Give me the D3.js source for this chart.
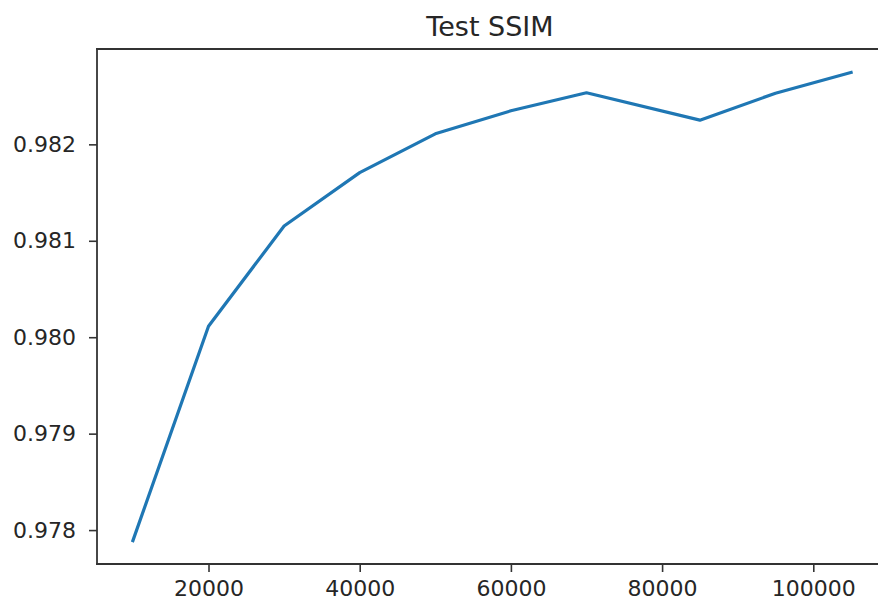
<!DOCTYPE html>
<html>
<head>
<meta charset="utf-8">
<script src="https://cdn.jsdelivr.net/npm/d3@7"></script>
<style>
  html, body { margin: 0; padding: 0; background: #fff; overflow: hidden; }
  svg { display: block; font-family: "DejaVu Sans", sans-serif; }
</style>
</head>
<body>
<svg width="878" height="606"></svg>
<script>
var steps = [10000, 20000, 30000, 40000, 50000, 60000, 70000, 85000, 95000, 105000];
var ssim = [0.977891, 0.980114, 0.981153, 0.981707, 0.982109, 0.982348, 0.982535, 0.982251, 0.982530, 0.982746];
var xTicks = [20000, 40000, 60000, 80000, 100000];
var yTicks = [0.978, 0.979, 0.980, 0.981, 0.982];

var svg = d3.select("svg");

// axes box (right edge falls outside the picture, like the original)
var boxL = 97, boxT = 49, boxR = 887, boxB = 564;

// matplotlib-style 5% margins
var xPad = (d3.max(steps) - d3.min(steps)) * 0.05,
    yPad = (d3.max(ssim) - d3.min(ssim)) * 0.05;

var x = d3.scaleLinear()
    .domain([d3.min(steps) - xPad, d3.max(steps) + xPad])
    .range([boxL, boxR]);

var y = d3.scaleLinear()
    .domain([d3.min(ssim) - yPad, d3.max(ssim) + yPad])
    .range([boxB, boxT]);

var xAxis = svg.append("g")
    .attr("transform", "translate(0," + boxB + ")")
    .call(d3.axisBottom(x).tickValues(xTicks).tickFormat(d3.format("d")).tickSize(8).tickPadding(8).tickSizeOuter(0));

var yAxis = svg.append("g")
    .attr("transform", "translate(" + boxL + ",0)")
    .call(d3.axisLeft(y).tickValues(yTicks).tickFormat(d3.format(".3f")).tickSize(8).tickPadding(13).tickSizeOuter(0));

[xAxis, yAxis].forEach(function (g) {
  g.select(".domain").remove();
  g.selectAll(".tick line").attr("stroke", "#333").attr("stroke-width", 1.6);
  g.selectAll(".tick text")
    .attr("fill", "#262626")
    .attr("font-size", 22)
    .attr("font-family", "DejaVu Sans, sans-serif");
});
xAxis.selectAll(".tick text").attr("dy", "0.71em");

// spines: left, top, bottom (the right one is past the picture's edge)
var spines = svg.append("g")
    .attr("stroke", "#333")
    .attr("stroke-width", 1.8)
    .attr("stroke-linecap", "square");
spines.append("line").attr("x1", boxL).attr("y1", boxT).attr("x2", boxL).attr("y2", boxB);
spines.append("line").attr("x1", boxL).attr("y1", boxT).attr("x2", 878).attr("y2", boxT);
spines.append("line").attr("x1", boxL).attr("y1", boxB).attr("x2", 878).attr("y2", boxB);

var line = d3.line()
    .x(function (d, i) { return x(steps[i]); })
    .y(function (d) { return y(d); });

svg.append("path")
    .datum(ssim)
    .attr("fill", "none")
    .attr("stroke", "#1f77b4")
    .attr("stroke-width", 3.2)
    .attr("stroke-linejoin", "round")
    .attr("stroke-linecap", "square")
    .attr("d", line);

svg.append("text")
    .attr("x", 490)
    .attr("y", 36)
    .attr("text-anchor", "middle")
    .attr("font-size", 27)
    .attr("fill", "#262626")
    .text("Test SSIM");
</script>
</body>
</html>
